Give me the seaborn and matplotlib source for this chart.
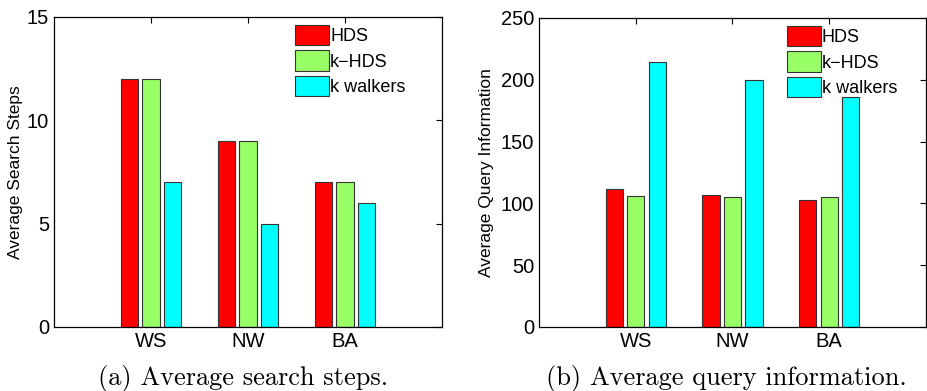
import pandas as pd
import matplotlib.pyplot as plt
import seaborn as sns

# Values
networks = ["WS", "NW", "BA"]
methods = ["HDS", "k\u2212HDS", "k walkers"]
search_steps = {
    "HDS": [12, 9, 7],
    "k\u2212HDS": [12, 9, 7],
    "k walkers": [7, 5, 6],
}
query_info = {
    "HDS": [112, 107, 103],
    "k\u2212HDS": [106, 105, 105],
    "k walkers": [214, 200, 186],
}
colors = ["#ff0000", "#99ff66", "#00ffff"]

sns.set_style("white")
plt.rcParams["font.family"] = ["Liberation Sans", "DejaVu Sans"]
plt.rcParams["text.color"] = "black"
plt.rcParams["axes.labelcolor"] = "black"
plt.rcParams["xtick.color"] = "black"
plt.rcParams["ytick.color"] = "black"


def to_long(values):
    rows = []
    for m in methods:
        for net, v in zip(networks, values[m]):
            rows.append({"Network": net, "Method": m, "Value": v})
    return pd.DataFrame(rows)


def draw(ax, values, ylabel, ylim, yticks, legend_x):
    df = to_long(values)
    sns.barplot(ax=ax, data=df, x="Network", y="Value", hue="Method",
                order=networks, hue_order=methods, palette=colors,
                width=0.667, gap=0.2, edgecolor="#333333", linewidth=0.8,
                saturation=1, errorbar=None)
    ax.set_xlim(-1, 3)
    ax.set_ylim(*ylim)
    ax.set_yticks(yticks)
    ax.set_xlabel("")
    ax.set_ylabel(ylabel, fontsize=12.5)
    ax.tick_params(axis="both", direction="in", labelsize=14.5, length=4,
                   top=True, right=True, width=0.8)
    for s in ax.spines.values():
        s.set_visible(True)
        s.set_linewidth(0.9)
        s.set_color("black")
    ax.legend(loc="upper left", bbox_to_anchor=(legend_x, 0.975),
              frameon=False, fontsize=13, borderpad=0, borderaxespad=0,
              handlelength=1.9, handleheight=1.35, handletextpad=0.05,
              labelspacing=0.3)


fig, axes = plt.subplots(1, 2, figsize=(9.28, 3.91), dpi=100)
draw(axes[0], search_steps, "Average Search Steps", (0, 15), [0, 5, 10, 15],
     0.621)
draw(axes[1], query_info, "Average Query Information", (0, 250),
     [0, 50, 100, 150, 200, 250], 0.64)

axes[0].set_position([54 / 928, 1 - 327 / 391, 388 / 928, 310 / 391])
axes[1].set_position([539 / 928, 1 - 327 / 391, 387 / 928, 309 / 391])
axes[0].yaxis.set_label_coords(-0.08, 0.5)
axes[1].yaxis.set_label_coords(-0.116, 0.5)

# Sub-figure captions
fig.text(243 / 928, 1 - 378 / 391, "(a) Average search steps.",
         ha="center", va="center", fontsize=19, family="cmr10")
fig.text(726 / 928, 1 - 378 / 391, "(b) Average query information.",
         ha="center", va="center", fontsize=19, family="cmr10")

fig.savefig("out.png", dpi=100)
